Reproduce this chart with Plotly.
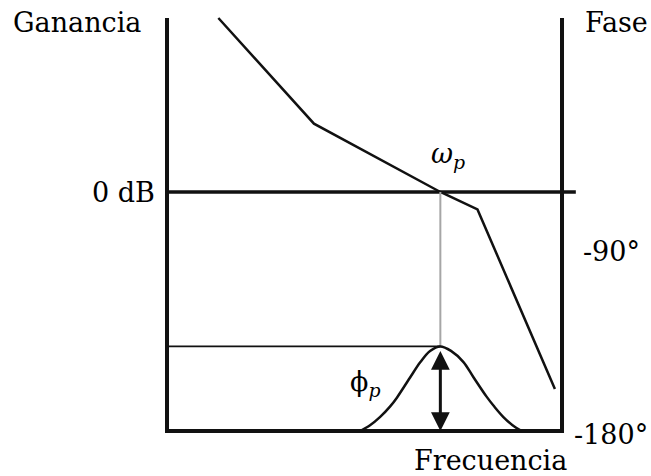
import plotly.graph_objects as go

# Frequency in arbitrary log units: 0 on the gain axis, 100 on the phase axis
gain_freq = [13.0, 37.2, 69.2, 78.6, 98.2]
gain_db = [40.0, 15.7, 0.0, -4.0, -45.3]

# Phase bump around the crossover frequency (degrees)
phase_freq = [48.9, 51.4, 53.9, 56.5, 58.2, 61.5, 64.1, 66.6, 69.2,
              71.9, 75.0, 77.5, 80.9, 82.9, 85.1, 87.4, 89.8]
phase_deg = [-180.0, -177.2, -173.2, -167.9, -163.6, -153.8, -146.2, -140.6, -138.4,
             -140.6, -146.0, -153.3, -163.1, -168.1, -173.0, -177.0, -180.0]

phase_ticks = [-90, -180]
phase_tick_text = ["-90°", "-180°"]

omega_p = gain_freq[2]
phi_peak = max(phase_deg)
gain_top = gain_db[0]
phase_floor = phase_ticks[-1]

# Axis ranges (both vertical axes span the whole figure height)
X_RANGE = [-42.28, 122.53]
G_RANGE = [-65.29, 44.14]
P_RANGE = [-202.13, 31.97]


def gain_to_phase(g):
    frac = (g - G_RANGE[0]) / (G_RANGE[1] - G_RANGE[0])
    return P_RANGE[0] + frac * (P_RANGE[1] - P_RANGE[0])


FONT = dict(family="DejaVu Serif", size=27, color="black")
BLACK = "#111111"

fig = go.Figure()

# Grey guide from the 0 dB crossover down to the phase maximum
fig.add_trace(go.Scatter(x=[omega_p, omega_p], y=[gain_to_phase(0), phi_peak],
                         yaxis="y2", mode="lines",
                         line=dict(color="#a6a6a6", width=2)))

# Frame: gain axis, frequency axis, phase axis
top_p = gain_to_phase(gain_top)
fig.add_trace(go.Scatter(x=[0, 0, 100, 100], y=[top_p, phase_floor, phase_floor, top_p],
                         yaxis="y2", mode="lines",
                         line=dict(color=BLACK, width=4)))

# 0 dB line
fig.add_trace(go.Scatter(x=[0, 103.5], y=[0, 0], mode="lines",
                         line=dict(color=BLACK, width=3.5)))

# Gain curve
fig.add_trace(go.Scatter(x=gain_freq, y=gain_db, mode="lines",
                         line=dict(color=BLACK, width=2.5)))

# Phase maximum level
fig.add_trace(go.Scatter(x=[0, omega_p], y=[phi_peak, phi_peak], yaxis="y2",
                         mode="lines", line=dict(color=BLACK, width=1.6)))

# Phase curve
fig.add_trace(go.Scatter(x=phase_freq, y=phase_deg, yaxis="y2", mode="lines",
                         line=dict(color=BLACK, width=2.5, shape="spline", smoothing=1.0)))

annotations = [
    # double-headed arrow showing the phase margin
    dict(x=omega_p, y=phase_floor, xref="x", yref="y2",
         ax=omega_p, ay=phi_peak, axref="x", ayref="y2",
         text="", showarrow=True, arrowhead=2, arrowside="end+start",
         arrowsize=1.25, arrowwidth=3, arrowcolor=BLACK, startstandoff=3),
    dict(x=-6.0, y=38.9, xref="x", yref="y", text="Ganancia",
         xanchor="right", yanchor="middle", showarrow=False, font=FONT),
    dict(x=105.4, y=38.9, xref="x", yref="y", text="Fase",
         xanchor="left", yanchor="middle", showarrow=False, font=FONT),
    dict(x=-2.5, y=0, xref="x", yref="y", text="0 dB",
         xanchor="right", yanchor="middle", showarrow=False, font=FONT),
    dict(x=81.8, y=phase_floor, xref="x", yref="y2", text="Frecuencia",
         xanchor="center", yanchor="middle", yshift=-29, showarrow=False, font=FONT),
    dict(x=71.1, y=8.3, xref="x", yref="y", text="<i>ω</i><sub><i>p</i></sub>",
         xanchor="center", yanchor="middle", showarrow=False, font=FONT),
    dict(x=50.3, y=-156.4, xref="x", yref="y2", text="ϕ<sub><i>p</i></sub>",
         xanchor="center", yanchor="middle", showarrow=False, font=FONT),
]
for val, txt in zip(phase_ticks, phase_tick_text):
    annotations.append(dict(x=112.5, y=val, xref="x", yref="y2", text=txt,
                            xanchor="center", yanchor="middle", yshift=-3,
                            showarrow=False, font=FONT))

fig.update_layout(
    width=651, height=476,
    margin=dict(l=0, r=0, t=0, b=0),
    paper_bgcolor="white", plot_bgcolor="white",
    showlegend=False,
    xaxis=dict(range=X_RANGE, visible=False, domain=[0, 1]),
    yaxis=dict(range=G_RANGE, visible=False, domain=[0, 1]),
    yaxis2=dict(range=P_RANGE, visible=False, overlaying="y", side="right"),
    annotations=annotations,
)

fig.write_html("out.html")
